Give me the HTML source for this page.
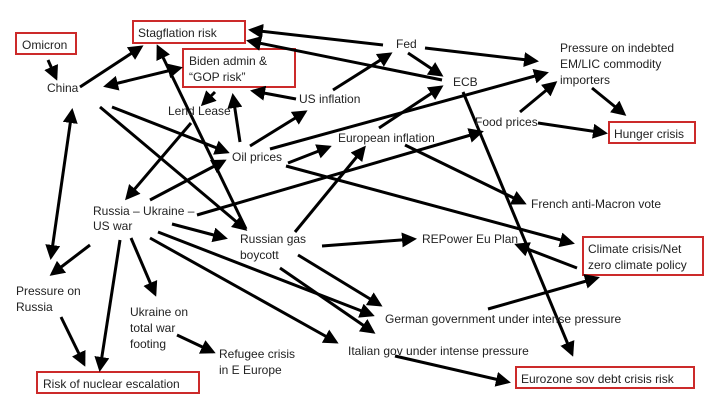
<!DOCTYPE html>
<html><head><meta charset="utf-8"><style>
html,body{margin:0;padding:0;background:#fff;}
svg{display:block;}
text{font-family:"Liberation Sans",sans-serif;font-size:12px;fill:#222;}
</style></head><body>
<svg width="723" height="410" viewBox="0 0 723 410" xmlns="http://www.w3.org/2000/svg">
<defs>
<marker id="a" markerWidth="5" markerHeight="5" refX="4" refY="2.5" orient="auto" markerUnits="strokeWidth">
<path d="M0,0 L5,2.5 L0,5 z" fill="#000"/></marker>
<marker id="s" markerWidth="5" markerHeight="5" refX="1" refY="2.5" orient="auto" markerUnits="strokeWidth">
<path d="M5,0 L0,2.5 L5,5 z" fill="#000"/></marker>
</defs>
<g fill="none" stroke="#cc2a2a" stroke-width="2">
<rect x="16" y="33" width="60" height="21"/>
<rect x="133" y="21" width="112" height="22"/>
<rect x="183" y="49" width="112" height="38"/>
<rect x="609" y="122" width="86" height="21"/>
<rect x="583" y="237" width="120" height="38"/>
<rect x="516" y="367" width="178" height="21"/>
<rect x="37" y="372" width="162" height="21"/>
</g>
<g stroke="#000" stroke-width="3" fill="none" marker-end="url(#a)">
<line x1="48" y1="60" x2="56" y2="78"/>
<line x1="80" y1="87" x2="141" y2="47"/>
<line x1="106" y1="86" x2="180" y2="68" marker-start="url(#s)"/>
<line x1="112" y1="107" x2="227" y2="152"/>
<line x1="100" y1="107" x2="245" y2="229"/>
<line x1="191" y1="123" x2="127" y2="198"/>
<line x1="215" y1="92" x2="203" y2="104"/>
<line x1="240" y1="142" x2="233" y2="96"/>
<line x1="296" y1="99" x2="253" y2="91"/>
<line x1="250" y1="146" x2="305" y2="112"/>
<line x1="246" y1="229" x2="158" y2="47"/>
<line x1="150" y1="200" x2="224" y2="161"/>
<line x1="288" y1="163" x2="329" y2="147"/>
<line x1="270" y1="149" x2="546" y2="73"/>
<line x1="286" y1="166" x2="572" y2="243"/>
<line x1="333" y1="90" x2="390" y2="54"/>
<line x1="383" y1="45" x2="251" y2="30"/>
<line x1="442" y1="80" x2="249" y2="41"/>
<line x1="408" y1="53" x2="441" y2="75"/>
<line x1="425" y1="48" x2="536" y2="61"/>
<line x1="379" y1="128" x2="441" y2="87"/>
<line x1="405" y1="145" x2="524" y2="203"/>
<line x1="463" y1="92" x2="572" y2="354"/>
<line x1="520" y1="112" x2="555" y2="83"/>
<line x1="538" y1="123" x2="605" y2="133"/>
<line x1="592" y1="88" x2="624" y2="114"/>
<line x1="295" y1="232" x2="364" y2="148"/>
<line x1="197" y1="215" x2="481" y2="132"/>
<line x1="172" y1="224" x2="225" y2="238"/>
<line x1="322" y1="246" x2="414" y2="239"/>
<line x1="577" y1="268" x2="517" y2="245"/>
<line x1="488" y1="309" x2="597" y2="278"/>
<line x1="298" y1="255" x2="380" y2="305"/>
<line x1="280" y1="268" x2="373" y2="332"/>
<line x1="158" y1="232" x2="372" y2="315"/>
<line x1="150" y1="238" x2="336" y2="342"/>
<line x1="395" y1="356" x2="508" y2="382"/>
<line x1="131" y1="238" x2="155" y2="294"/>
<line x1="90" y1="245" x2="52" y2="274"/>
<line x1="120" y1="240" x2="100" y2="369"/>
<line x1="61" y1="317" x2="84" y2="364"/>
<line x1="51" y1="257" x2="72" y2="111" marker-start="url(#s)"/>
<line x1="177" y1="335" x2="213" y2="352"/>
</g>
<text x="22" y="49">Omicron</text>
<text x="138" y="37">Stagflation risk</text>
<text x="189" y="65">Biden admin &amp;</text>
<text x="189" y="81">“GOP risk”</text>
<text x="47" y="92">China</text>
<text x="168" y="115">Lend Lease</text>
<text x="299" y="103">US inflation</text>
<text x="232" y="161">Oil prices</text>
<text x="396" y="48">Fed</text>
<text x="453" y="86">ECB</text>
<text x="560" y="52">Pressure on indebted</text>
<text x="560" y="68">EM/LIC commodity</text>
<text x="560" y="84">importers</text>
<text x="475" y="126">Food prices</text>
<text x="338" y="142">European inflation</text>
<text x="531" y="208">French anti-Macron vote</text>
<text x="93" y="215">Russia – Ukraine –</text>
<text x="93" y="230">US war</text>
<text x="240" y="243">Russian gas</text>
<text x="240" y="259">boycott</text>
<text x="422" y="243">REPower Eu Plan</text>
<text x="16" y="295">Pressure on</text>
<text x="16" y="311">Russia</text>
<text x="130" y="316">Ukraine on</text>
<text x="130" y="332">total war</text>
<text x="130" y="348">footing</text>
<text x="219" y="358">Refugee crisis</text>
<text x="219" y="374">in E Europe</text>
<text x="385" y="323">German government under intense pressure</text>
<text x="348" y="355">Italian gov under intense pressure</text>
<text x="521" y="383">Eurozone sov debt crisis risk</text>
<text x="588" y="253">Climate crisis/Net</text>
<text x="588" y="269">zero climate policy</text>
<text x="614" y="138">Hunger crisis</text>
<text x="43" y="388">Risk of nuclear escalation</text>
</svg>
</body></html>
